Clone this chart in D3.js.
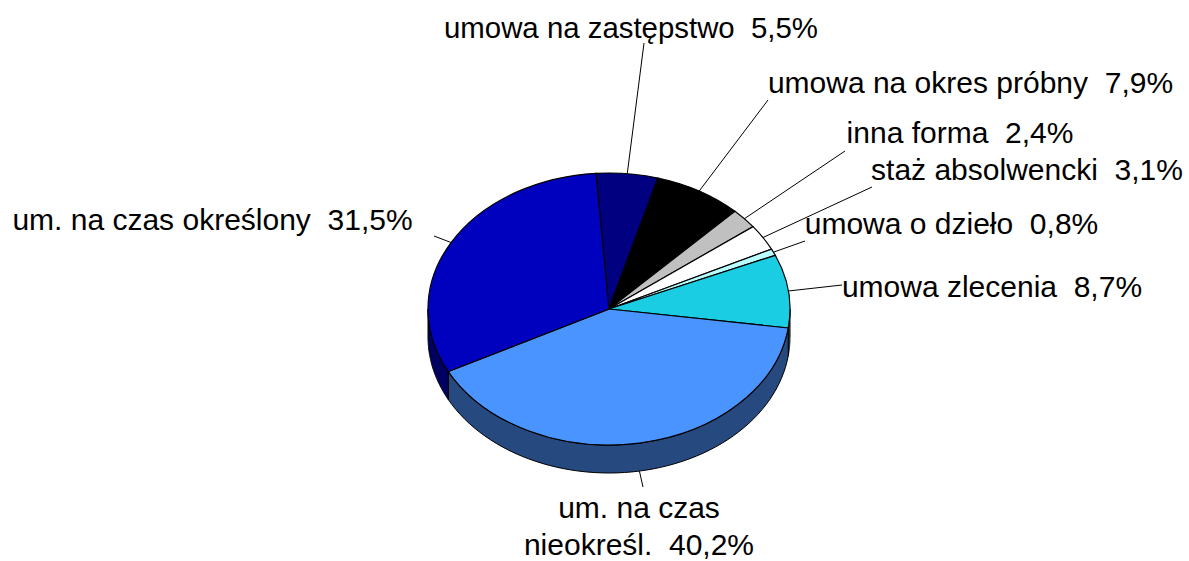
<!DOCTYPE html>
<html><head><meta charset="utf-8">
<script src="https://cdnjs.cloudflare.com/ajax/libs/d3/7.8.5/d3.min.js"></script>
<style>html,body{margin:0;background:#fff}svg{display:block}text{font-family:"Liberation Sans",Arial,sans-serif;font-size:30px;fill:#000}</style>
</head><body><svg id="c" width="1189" height="561"></svg>
<script>
const categories=["umowa na zastępstwo","umowa na okres próbny","inna forma","staż absolwencki","umowa o dzieło","umowa zlecenia","um. na czas nieokreśl.","um. na czas określony"];
const values=[5.5,7.9,2.4,3.1,0.8,8.7,40.2,31.5];
const topColors=["#000080","#000000","#c0c0c0","#ffffff","#b9ffff","#1bcde3","#4a94ff","#0000bf"];
const sideColors=["#000040","#000000","#606060","#808080","#5c8080","#0e6772","#264a80","#000060"];
const labelLines=[["umowa na zastępstwo  5,5%"],["umowa na okres próbny  7,9%"],["inna forma  2,4%"],["staż absolwencki  3,1%"],["umowa o dzieło  0,8%"],["umowa zlecenia  8,7%"],["um. na czas","nieokreśl.  40,2%"],["um. na czas określony  31,5%"]];
const labelPos=[[631,38],[970.5,93],[960,143],[1027,180],[951.5,234],[992,297],[639,518],[212.5,230]];
const leaderEnd=[[644,43],[768,100],[845,151],[872,187],[805,241],[842,285],[643,487],[434,236]];
const cx=609,cy=309,rx=181,ry=136,depth=28,startDeg=-4.1;
const svg=d3.select("#c");
const pie=d3.pie().sort(null).value(d=>d).startAngle(startDeg*Math.PI/180).endAngle((startDeg+360)*Math.PI/180);
const arcs=pie(values);
const px=a=>cx+rx*Math.sin(a),py=a=>cy-ry*Math.cos(a);
const lineGen=d3.line();
const lo=Math.PI/2,hi=3*Math.PI/2;
arcs.forEach((d,i)=>{
  const a0=Math.max(d.startAngle,lo),a1=Math.min(d.endAngle,hi);
  if(a1<=a0)return;
  const as=d3.range(0,61).map(k=>a0+(a1-a0)*k/60);
  const pts=as.map(a=>[px(a),py(a)]).concat(as.slice().reverse().map(a=>[px(a),py(a)+depth]));
  svg.append("path").attr("d",lineGen(pts)+"Z").attr("fill",sideColors[i]).attr("stroke","#000").attr("stroke-width",1);
});
const arc=d3.arc().innerRadius(0).outerRadius(rx);
svg.append("g").attr("transform",`translate(${cx},${cy}) scale(1,${ry/rx})`)
 .selectAll("path").data(arcs).join("path").attr("d",arc)
 .attr("fill",(d,i)=>topColors[i]).attr("stroke","#000").attr("stroke-width",1.2).attr("vector-effect","non-scaling-stroke");
arcs.forEach((d,i)=>{
  const m=(d.startAngle+d.endAngle)/2, front=Math.cos(m)<0;
  const y0=py(m)+(front?depth:0);
  svg.append("line").attr("x1",px(m)).attr("y1",y0).attr("x2",leaderEnd[i][0]).attr("y2",leaderEnd[i][1]).attr("stroke","#000").attr("stroke-width",1);
});
labelLines.forEach((ls,i)=>{
  const t=svg.append("text").attr("x",labelPos[i][0]).attr("y",labelPos[i][1]).attr("text-anchor","middle").style("white-space","pre");
  ls.forEach((s,k)=>{
    const sp=t.append("tspan").attr("x",labelPos[i][0]).attr("dy",k?37:0).text(s);
    if(i===0) sp.attr("textLength",374).attr("lengthAdjust","spacingAndGlyphs");
  });
});
</script></body></html>
